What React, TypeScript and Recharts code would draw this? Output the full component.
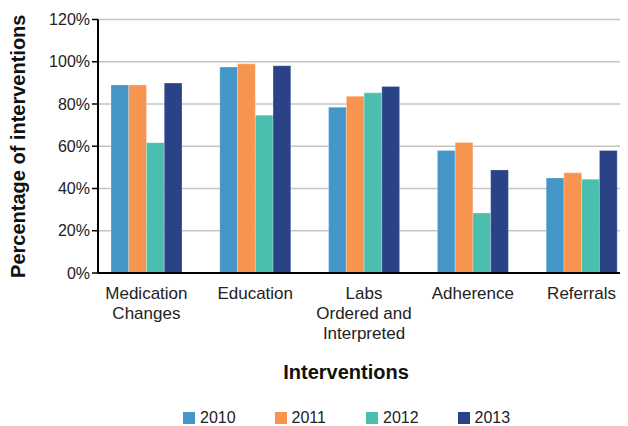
import { BarChart, Bar, XAxis, YAxis, CartesianGrid, Legend, Label } from 'recharts'

const categories = ['Medication Changes', 'Education', 'Labs Ordered and Interpreted', 'Adherence', 'Referrals']
const tickLines: Record<string, string[]> = {
  'Medication Changes': ['Medication', 'Changes'],
  Education: ['Education'],
  'Labs Ordered and Interpreted': ['Labs', 'Ordered and', 'Interpreted'],
  Adherence: ['Adherence'],
  Referrals: ['Referrals'],
}
const years = ['2010', '2011', '2012', '2013']
const y2010 = [89, 97.5, 78.5, 58, 45]
const y2011 = [89, 99, 83.7, 61.8, 47.4]
const y2012 = [61.7, 74.7, 85.3, 28.4, 44.4]
const y2013 = [89.9, 98.1, 88.3, 48.8, 58]
const yTicks = [0, 20, 40, 60, 80, 100, 120]
const colors = ['#4596c8', '#f79450', '#4bbfad', '#2a4387']

const data = categories.map((c, i) => ({
  name: c,
  '2010': y2010[i],
  '2011': y2011[i],
  '2012': y2012[i],
  '2013': y2013[i],
}))

const FONT = '"Liberation Sans", Arial, Helvetica, sans-serif'

// multi-line category labels under each group
function CategoryTick(props: any) {
  const { x, y, payload } = props
  const lines = tickLines[payload.value] ?? [payload.value]
  return (
    <g transform={`translate(${x},${y})`}>
      {lines.map((l, i) => (
        <text
          key={i}
          x={0}
          y={18 + i * 20}
          textAnchor="middle"
          fill="#222"
          style={{ fontSize: 17, fontFamily: FONT }}
        >
          {l}
        </text>
      ))}
    </g>
  )
}

function YearLegend() {
  return (
    <div style={{ display: 'flex', alignItems: 'center', height: 16, paddingLeft: 175, fontFamily: FONT }}>
      {years.map((y, i) => (
        <div key={y} style={{ display: 'flex', alignItems: 'center', width: 91.5 }}>
          <span style={{ display: 'inline-block', width: 12, height: 12, background: colors[i], marginRight: 5 }} />
          <span style={{ fontSize: 16, color: '#222' }}>{y}</span>
        </div>
      ))}
    </div>
  )
}

export default function App() {
  return (
    <BarChart
      width={620}
      height={418}
      data={data}
      margin={{ top: 11.5, right: 0, bottom: 0, left: 0 }}
      barGap={0}
      barSize={17.75}
    >
      <CartesianGrid vertical={false} stroke="#c4c4c4" strokeWidth={1.5} />
      <XAxis
        dataKey="name"
        tick={<CategoryTick />}
        tickLine={false}
        axisLine={{ stroke: '#000', strokeWidth: 2 }}
        height={137}
        interval={0}
        padding={{ left: -6, right: -8 }}
      >
        <Label
          value="Interventions"
          position="insideBottom"
          offset={31}
          dx={-17}
          style={{ fontSize: 20, fontWeight: 'bold', fill: '#111', fontFamily: FONT }}
        />
      </XAxis>
      <YAxis
        domain={[0, 120]}
        ticks={yTicks}
        tickFormatter={(v) => `${v}%`}
        width={90}
        tickSize={6}
        tickMargin={2}
        tickLine={{ stroke: '#000', strokeWidth: 1.5 }}
        axisLine={{ stroke: '#000', strokeWidth: 2 }}
        tick={{ fontSize: 16, fill: '#222', fontFamily: FONT }}
      >
        <Label
          value="Percentage of interventions"
          angle={-90}
          position="insideLeft"
          offset={10}
          style={{ fontSize: 20, fontWeight: 'bold', fill: '#111', textAnchor: 'middle', fontFamily: FONT }}
        />
      </YAxis>
      <Legend verticalAlign="bottom" height={16} content={<YearLegend />} />
      {years.map((y, i) => (
        <Bar key={y} dataKey={y} fill={colors[i]} stroke="#fff" strokeOpacity={0.5} strokeWidth={0.5} isAnimationActive={false} />
      ))}
    </BarChart>
  )
}
